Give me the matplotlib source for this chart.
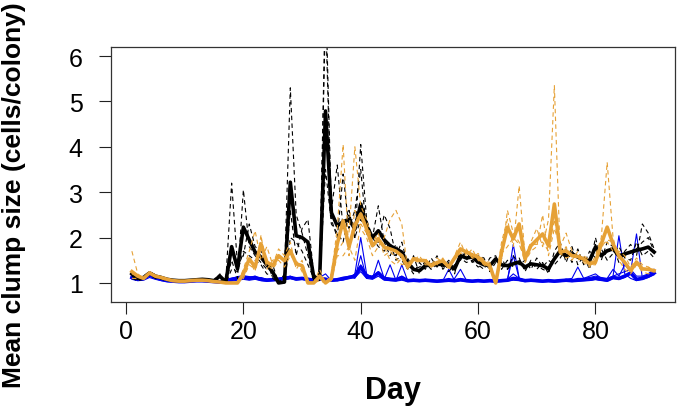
import numpy as np
import matplotlib
matplotlib.use('Agg')
import matplotlib.pyplot as plt

plt.rcParams['font.family'] = ['Liberation Sans', 'DejaVu Sans']

days = np.arange(1, 91)

#----------MEAN CURVES (thick lines)
black_mean = [1.20, 1.10, 1.12, 1.22, 1.15, 1.12, 1.08, 1.06, 1.05, 1.05,
              1.06, 1.07, 1.08, 1.07, 1.05, 1.15, 1.02, 1.80, 1.31, 2.23,
              1.95, 1.68, 1.57, 1.40, 1.24, 1.00, 1.02, 3.22, 2.04, 2.00,
              1.90, 1.12, 1.10, 4.79, 2.55, 2.26, 2.35, 2.40, 2.19, 2.74,
              2.26, 2.00, 2.15, 1.95, 1.82, 1.75, 1.68, 1.45, 1.30, 1.27,
              1.38, 1.40, 1.42, 1.40, 1.38, 1.31, 1.60, 1.55, 1.57, 1.46,
              1.40, 1.38, 1.53, 1.40, 1.38, 1.42, 1.46, 1.35, 1.42, 1.40,
              1.38, 1.31, 1.53, 1.71, 1.60, 1.64, 1.57, 1.52, 1.49, 1.79,
              1.60, 1.71, 1.75, 1.60, 1.64, 1.68, 1.72, 1.75, 1.79, 1.68]

orange_mean = [1.25, 1.15, 1.10, 1.22, 1.15, 1.12, 1.08, 1.05, 1.04, 1.04,
               1.05, 1.06, 1.06, 1.05, 1.03, 1.02, 1.00, 1.00, 1.00, 1.20,
               1.53, 1.35, 1.86, 1.46, 1.38, 1.60, 1.49, 1.71, 1.42, 1.38,
               1.00, 1.00, 1.15, 1.00, 1.10, 1.86, 2.37, 1.80, 2.26, 2.52,
               2.19, 1.82, 1.97, 1.79, 1.75, 1.70, 1.60, 1.35, 1.53, 1.50,
               1.49, 1.38, 1.45, 1.49, 1.35, 1.55, 1.75, 1.68, 1.62, 1.57,
               1.45, 1.38, 1.00, 1.68, 2.23, 1.97, 2.30, 1.53, 1.82, 1.95,
               2.08, 1.82, 2.74, 1.68, 1.71, 1.60, 1.58, 1.53, 1.42, 1.46,
               1.86, 2.23, 1.86, 1.60, 1.45, 1.27, 1.46, 1.31, 1.30, 1.27]

blue_mean = [1.12, 1.08, 1.10, 1.18, 1.12, 1.08, 1.05, 1.04, 1.03, 1.03,
             1.04, 1.05, 1.05, 1.04, 1.03, 1.02, 1.05, 1.08, 1.10, 1.12,
             1.10, 1.12, 1.08, 1.06, 1.07, 1.08, 1.10, 1.12, 1.09, 1.10,
             1.08, 1.06, 1.10, 1.08, 1.06, 1.07, 1.10, 1.12, 1.15, 1.35,
             1.15, 1.12, 1.22, 1.10, 1.08, 1.07, 1.12, 1.05, 1.06, 1.05,
             1.06, 1.05, 1.04, 1.05, 1.06, 1.05, 1.07, 1.05, 1.04, 1.05,
             1.04, 1.05, 1.04, 1.05, 1.06, 1.10, 1.08, 1.05, 1.06, 1.05,
             1.04, 1.05, 1.04, 1.05, 1.06, 1.05, 1.06, 1.07, 1.08, 1.10,
             1.08, 1.06, 1.12, 1.10, 1.15, 1.22, 1.08, 1.10, 1.15, 1.22]

#----------REPLICATES (thin lines)
black_rep1 = [1.15, 1.08, 1.10, 1.20, 1.12, 1.10, 1.06, 1.05, 1.04, 1.05,
              1.05, 1.06, 1.08, 1.07, 1.05, 1.10, 1.05, 3.20, 1.40, 1.60,
              2.30, 1.80, 1.70, 1.50, 1.10, 1.00, 1.20, 5.30, 2.50, 2.10,
              1.60, 1.05, 1.10, 7.50, 2.60, 3.60, 2.20, 2.50, 2.00, 4.05,
              2.40, 2.00, 2.70, 1.90, 1.60, 1.85, 1.50, 1.30, 1.60, 1.20,
              1.50, 1.35, 1.60, 1.30, 1.45, 1.20, 1.75, 1.50, 1.65, 1.40,
              1.30, 1.55, 1.60, 1.30, 1.50, 1.35, 1.55, 1.25, 1.50, 1.30,
              1.45, 1.20, 1.70, 1.90, 1.45, 1.80, 1.40, 1.60, 1.30, 2.00,
              1.50, 1.90, 1.80, 1.45, 1.70, 1.85, 1.60, 2.30, 2.10, 1.75]
black_rep2 = [1.25, 1.12, 1.15, 1.25, 1.18, 1.14, 1.10, 1.07, 1.06, 1.06,
              1.07, 1.08, 1.09, 1.08, 1.06, 1.20, 1.00, 1.50, 1.10, 3.05,
              1.80, 1.60, 1.45, 1.30, 1.40, 1.00, 1.05, 2.60, 1.60, 2.20,
              2.40, 1.20, 1.05, 7.00, 2.40, 2.00, 3.40, 2.20, 2.60, 3.50,
              2.10, 1.80, 1.90, 2.50, 2.20, 1.60, 1.90, 1.40, 1.20, 1.45,
              1.30, 1.55, 1.35, 1.50, 1.25, 1.40, 1.50, 1.70, 1.45, 1.60,
              1.55, 1.25, 1.45, 1.55, 1.30, 1.60, 1.40, 1.50, 1.30, 1.55,
              1.35, 1.50, 1.40, 1.55, 1.75, 1.45, 1.75, 1.40, 1.70, 1.55,
              1.75, 1.50, 1.65, 1.80, 1.55, 1.50, 1.90, 1.60, 1.70, 1.55]
black_rep3 = [1.10, 1.05, 1.08, 1.18, 1.10, 1.08, 1.05, 1.04, 1.03, 1.04,
              1.04, 1.05, 1.06, 1.06, 1.04, 1.08, 1.00, 1.30, 1.25, 1.70,
              1.60, 1.50, 1.40, 1.20, 1.15, 1.02, 1.00, 2.00, 1.90, 1.70,
              1.40, 1.10, 1.05, 3.50, 2.30, 2.10, 1.90, 2.60, 2.00, 2.40,
              2.20, 2.00, 1.80, 1.70, 1.90, 1.50, 1.60, 1.55, 1.30, 1.35,
              1.45, 1.30, 1.40, 1.35, 1.50, 1.30, 1.55, 1.45, 1.50, 1.35,
              1.40, 1.35, 1.50, 1.40, 1.30, 1.45, 1.50, 1.30, 1.45, 1.40,
              1.30, 1.25, 1.55, 1.65, 1.55, 1.70, 1.55, 1.50, 1.45, 1.85,
              1.60, 1.65, 1.80, 1.55, 1.60, 1.70, 1.75, 1.90, 2.00, 1.70]

orange_rep1 = [1.70, 1.20, 1.10, 1.25, 1.15, 1.12, 1.08, 1.05, 1.04, 1.04,
               1.05, 1.06, 1.06, 1.05, 1.03, 1.02, 1.00, 1.00, 1.00, 1.30,
               1.70, 2.15, 1.50, 1.80, 1.40, 1.75, 1.60, 1.90, 1.30, 1.50,
               1.00, 1.00, 1.30, 1.00, 1.20, 2.20, 4.05, 1.60, 2.60, 2.20,
               2.00, 1.60, 1.80, 2.00, 2.40, 2.60, 2.30, 1.30, 1.60, 1.45,
               1.55, 1.35, 1.40, 1.55, 1.30, 1.60, 1.90, 1.60, 1.75, 1.50,
               1.40, 1.30, 1.00, 1.90, 2.40, 1.80, 3.14, 1.60, 1.90, 2.20,
               1.80, 2.40, 5.35, 1.60, 1.80, 1.50, 1.70, 1.45, 1.35, 1.60,
               2.00, 3.66, 2.00, 1.50, 1.30, 1.20, 1.40, 1.25, 1.20, 1.25]
orange_rep2 = [1.20, 1.15, 1.08, 1.20, 1.15, 1.10, 1.07, 1.05, 1.04, 1.03,
               1.04, 1.05, 1.05, 1.04, 1.03, 1.02, 1.00, 1.00, 1.00, 1.10,
               1.40, 1.30, 2.00, 1.40, 1.30, 1.50, 1.35, 1.60, 1.50, 1.25,
               1.00, 1.00, 1.05, 1.00, 1.05, 1.70, 1.90, 2.10, 4.00, 2.70,
               2.40, 1.90, 2.10, 1.60, 1.70, 1.55, 1.40, 1.45, 1.50, 1.60,
               1.40, 1.40, 1.55, 1.45, 1.40, 1.50, 1.70, 1.75, 1.55, 1.65,
               1.50, 1.45, 1.05, 1.50, 2.60, 2.10, 1.90, 1.45, 1.70, 1.80,
               2.50, 1.60, 2.20, 1.80, 2.10, 1.70, 1.50, 1.60, 1.50, 1.40,
               1.80, 1.90, 1.70, 1.70, 1.60, 1.35, 1.55, 1.40, 1.35, 1.30]
orange_rep3 = [1.10, 1.10, 1.12, 1.20, 1.14, 1.10, 1.06, 1.04, 1.03, 1.04,
               1.05, 1.06, 1.06, 1.05, 1.03, 1.02, 1.00, 1.00, 1.00, 1.20,
               1.50, 1.25, 2.05, 1.30, 1.50, 1.55, 1.55, 1.65, 1.45, 1.40,
               1.00, 1.00, 1.10, 1.00, 1.05, 1.60, 1.60, 1.80, 1.50, 2.30,
               2.10, 1.95, 2.00, 1.80, 1.50, 1.40, 1.55, 1.30, 1.50, 1.45,
               1.50, 1.40, 1.45, 1.45, 1.35, 1.55, 1.65, 1.70, 1.55, 1.55,
               1.45, 1.40, 1.00, 1.65, 1.80, 2.00, 1.85, 1.55, 1.85, 1.85,
               1.90, 1.70, 2.40, 1.65, 1.55, 1.60, 1.55, 1.50, 1.40, 1.40,
               1.80, 1.95, 1.90, 1.60, 1.45, 1.30, 1.45, 1.30, 1.35, 1.25]

blue_rep1 = [1.10, 1.06, 1.08, 1.15, 1.10, 1.06, 1.04, 1.03, 1.02, 1.02,
             1.03, 1.04, 1.04, 1.03, 1.02, 1.01, 1.04, 1.06, 1.10, 1.15,
             1.12, 1.15, 1.08, 1.05, 1.06, 1.10, 1.12, 1.15, 1.08, 1.12,
             1.06, 1.05, 1.12, 1.20, 1.05, 1.06, 1.12, 1.10, 1.20, 2.00,
             1.20, 1.10, 1.50, 1.10, 1.06, 1.05, 1.40, 1.05, 1.04, 1.05,
             1.05, 1.04, 1.03, 1.05, 1.30, 1.05, 1.08, 1.04, 1.03, 1.04,
             1.03, 1.05, 1.03, 1.04, 1.05, 1.85, 1.10, 1.04, 1.05, 1.04,
             1.03, 1.05, 1.03, 1.04, 1.05, 1.04, 1.06, 1.10, 1.15, 1.20,
             1.10, 1.05, 1.15, 2.04, 1.20, 1.10, 1.05, 1.10, 1.20, 1.30]
blue_rep2 = [1.12, 1.08, 1.10, 1.18, 1.12, 1.08, 1.05, 1.04, 1.03, 1.03,
             1.04, 1.05, 1.05, 1.04, 1.03, 1.02, 1.06, 1.10, 1.12, 1.10,
             1.08, 1.10, 1.12, 1.08, 1.10, 1.06, 1.08, 1.10, 1.12, 1.08,
             1.10, 1.08, 1.06, 1.10, 1.08, 1.05, 1.08, 1.15, 1.10, 1.60,
             1.10, 1.15, 1.20, 1.08, 1.40, 1.06, 1.08, 1.04, 1.06, 1.04,
             1.06, 1.05, 1.04, 1.06, 1.05, 1.10, 1.30, 1.06, 1.05, 1.06,
             1.05, 1.04, 1.05, 1.06, 1.08, 1.60, 1.10, 1.06, 1.05, 1.06,
             1.04, 1.06, 1.05, 1.06, 1.08, 1.10, 1.35, 1.10, 1.06, 1.08,
             1.06, 1.10, 1.30, 1.15, 1.40, 1.25, 2.08, 1.10, 1.15, 1.20]
blue_rep3 = [1.08, 1.05, 1.06, 1.12, 1.08, 1.05, 1.03, 1.02, 1.01, 1.01,
             1.02, 1.03, 1.03, 1.02, 1.01, 1.00, 1.02, 1.04, 1.06, 1.08,
             1.06, 1.08, 1.05, 1.04, 1.05, 1.06, 1.08, 1.10, 1.06, 1.08,
             1.05, 1.04, 1.08, 1.05, 1.04, 1.05, 1.06, 1.10, 1.12, 1.25,
             1.10, 1.08, 1.15, 1.06, 1.05, 1.04, 1.06, 1.03, 1.04, 1.03,
             1.04, 1.03, 1.02, 1.03, 1.04, 1.03, 1.05, 1.03, 1.02, 1.03,
             1.02, 1.03, 1.02, 1.03, 1.04, 1.06, 1.05, 1.03, 1.04, 1.03,
             1.02, 1.03, 1.02, 1.03, 1.04, 1.03, 1.04, 1.05, 1.06, 1.08,
             1.06, 1.04, 1.10, 1.08, 1.12, 1.20, 1.06, 1.08, 1.12, 1.18]
blue_rep4 = [1.14, 1.10, 1.12, 1.20, 1.14, 1.10, 1.06, 1.05, 1.04, 1.04,
             1.05, 1.06, 1.06, 1.05, 1.04, 1.03, 1.06, 1.10, 1.14, 1.16,
             1.14, 1.12, 1.10, 1.08, 1.08, 1.10, 1.12, 1.14, 1.10, 1.12,
             1.10, 1.08, 1.12, 1.10, 1.08, 1.08, 1.12, 1.14, 1.18, 1.40,
             1.18, 1.14, 1.25, 1.12, 1.10, 1.08, 1.15, 1.06, 1.08, 1.06,
             1.08, 1.06, 1.05, 1.06, 1.10, 1.06, 1.10, 1.06, 1.05, 1.06,
             1.05, 1.06, 1.05, 1.06, 1.08, 1.20, 1.10, 1.06, 1.08, 1.06,
             1.05, 1.06, 1.05, 1.06, 1.08, 1.06, 1.10, 1.10, 1.12, 1.15,
             1.12, 1.10, 1.15, 1.20, 1.25, 1.30, 1.15, 1.15, 1.20, 1.28]

x_ticks = [0, 20, 40, 60, 80]
y_ticks = [1, 2, 3, 4, 5, 6]

BLACK = '#000000'
ORANGE = '#E6A136'
BLUE = '#0000F0'

fig = plt.figure(figsize=(6.77, 4.10), dpi=100)
ax = fig.add_axes([111/677, 107/410, 564/677, 255/410])

for rep in [blue_rep1, blue_rep2, blue_rep3, blue_rep4]:
    ax.plot(days, rep, color=BLUE, lw=0.8)
ax.plot(days, blue_mean, color=BLUE, lw=2.6)

for rep in [black_rep1, black_rep2, black_rep3]:
    ax.plot(days, rep, color=BLACK, lw=0.8, ls=(0, (4, 3)))
ax.plot(days, black_mean, color=BLACK, lw=2.6)

for rep in [orange_rep1, orange_rep2, orange_rep3]:
    ax.plot(days, rep, color=ORANGE, lw=0.8, ls=(0, (4, 3)))
ax.plot(days, orange_mean, color=ORANGE, lw=2.6)

ax.set_xlim(-2.56, 93.56)
ax.set_ylim(0.58, 6.2)
ax.set_xticks(x_ticks)
ax.set_yticks(y_ticks)
ax.tick_params(direction='out', length=8.5, width=0.8, labelsize=18, color='#222222')
ax.tick_params(axis='y', pad=12)
ax.tick_params(axis='x', pad=4)
for s in ax.spines.values():
    s.set_linewidth(0.9)
    s.set_color('#333333')

fig.text(393/677, 1 - 391/410, 'Day', ha='center', va='center', fontsize=22, fontweight='bold')
fig.text(14/677, 1 - 195/410, 'Mean clump size (cells/colony)', ha='center', va='center',
         rotation=90, fontsize=19, fontweight='bold')

fig.savefig('out.png', dpi=100)
